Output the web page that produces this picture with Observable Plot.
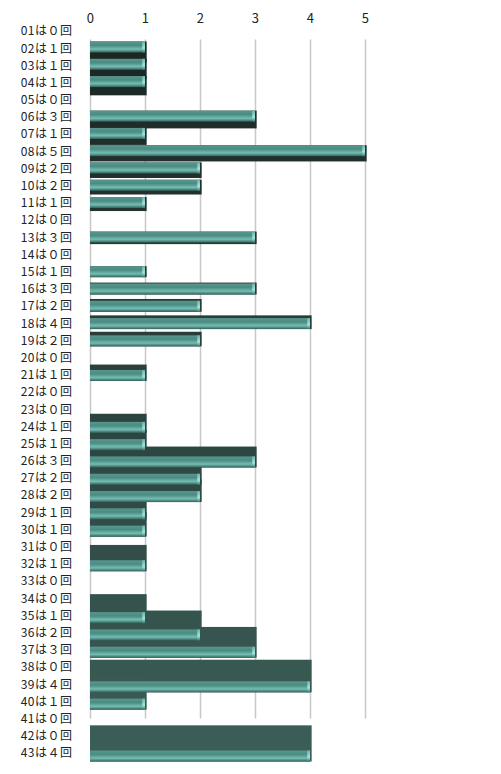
<!DOCTYPE html>
<html>
<head>
<meta charset="utf-8">
<script src="https://cdn.jsdelivr.net/npm/d3@7"></script>
<script src="https://cdn.jsdelivr.net/npm/@observablehq/plot@0.6"></script>
<style>
  body { margin: 0; background: #fff; }
</style>
</head>
<body>
<div id="chart"></div>
<script>
// 回数 (count per number)
const labels = [
  "01は０回", "02は１回", "03は１回", "04は１回", "05は０回", "06は３回", "07は１回",
  "08は５回", "09は２回", "10は２回", "11は１回", "12は０回", "13は３回", "14は０回",
  "15は１回", "16は３回", "17は２回", "18は４回", "19は２回", "20は０回", "21は１回",
  "22は０回", "23は０回", "24は１回", "25は１回", "26は３回", "27は２回", "28は２回",
  "29は１回", "30は１回", "31は０回", "32は１回", "33は０回", "34は０回", "35は１回",
  "36は２回", "37は３回", "38は０回", "39は４回", "40は１回", "41は０回", "42は０回",
  "43は４回"
];
const counts = [
  0, 1, 1, 1, 0, 3, 1, 5, 2, 2, 1, 0, 3, 0, 1, 3, 2, 4, 2, 0, 1, 0,
  0, 1, 1, 3, 2, 2, 1, 1, 0, 1, 0, 0, 1, 2, 3, 0, 4, 1, 0, 0, 4
];
const xTicks = [0, 1, 2, 3, 4, 5];

const table = labels.map((label, i) => ({row: i + 1, label, count: counts[i]}));
const bars = table.filter(d => d.count > 0);

// fake 3D: the side face hangs below the bar near the top and rises above it near the bottom
const rowPx = 17.19;
const depthPx = (r) => r <= 15 ? (15 - r) * 0.75 : -(r - 15) * 0.9;
const half = 0.32;
const shift = (r) => -depthPx(r) * 0.12 / rowPx;
const darkColor = d3.interpolateRgb("#1a2422", "#3b5d57");

const defs = () => {
  const ns = "http://www.w3.org/2000/svg";
  const g = document.createElementNS(ns, "defs");
  g.innerHTML = `
    <linearGradient id="face" x1="0" y1="0" x2="0" y2="1">
      <stop offset="0" stop-color="#5a978e"/>
      <stop offset="0.35" stop-color="#4a8b82"/>
      <stop offset="0.7" stop-color="#74bdb2"/>
      <stop offset="1" stop-color="#32625b"/>
    </linearGradient>
    <linearGradient id="cap" x1="0" y1="0" x2="0" y2="1">
      <stop offset="0" stop-color="#6fb3a9"/>
      <stop offset="0.6" stop-color="#9ee8de"/>
      <stop offset="1" stop-color="#3d756e"/>
    </linearGradient>`;
  return g;
};

const chart = Plot.plot({
  width: 501,
  height: 774,
  marginLeft: 90,
  marginRight: 136,
  marginTop: 22.4,
  marginBottom: 12.4,
  style: {
    fontFamily: "'Noto Sans CJK JP', sans-serif",
    fontSize: "13px",
    color: "#222",
    background: "#fff"
  },
  x: {domain: [0, 5], axis: "top", ticks: xTicks, tickFormat: "d", tickSize: 0, tickPadding: 0, label: null},
  y: {domain: [0.5, 43.5], reverse: true, axis: null},
  marks: [
    defs,
    Plot.ruleX(xTicks, {x: d => d, y1: 1.5, y2: 41, stroke: "#c8c8c8", strokeWidth: 1.5}),
    Plot.rect(bars, {
      x1: 0, x2: d => d.count + 0.03,
      y1: d => d.row + shift(d.row) - half + Math.min(0, depthPx(d.row)) / rowPx,
      y2: d => d.row + shift(d.row) + half + Math.max(0, depthPx(d.row)) / rowPx,
      fill: d => darkColor(d.row / 43)
    }),
    Plot.rect(bars, {
      x1: 0, x2: "count",
      y1: d => d.row + shift(d.row) - half,
      y2: d => d.row + shift(d.row) + half,
      fill: "url(#face)"
    }),
    Plot.rect(bars, {
      x1: d => d.count - 0.05, x2: "count",
      y1: d => d.row + shift(d.row) - half,
      y2: d => d.row + shift(d.row) + half,
      fill: "url(#cap)"
    }),
    Plot.text(table, {x: 0, y: "row", text: "label", textAnchor: "end", dx: -18,
      fill: "#222", fontSize: 12, lineHeight: 1})
  ]
});

chart.querySelectorAll("text").forEach(t => t.style.letterSpacing = "0.5px");
document.getElementById("chart").append(chart);
</script>
</body>
</html>
